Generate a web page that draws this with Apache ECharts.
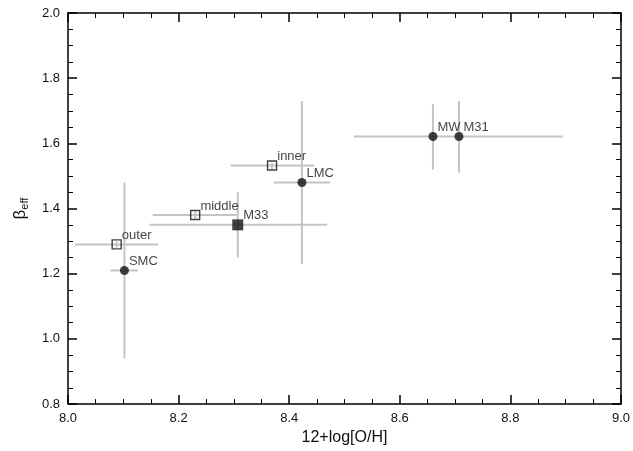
<!DOCTYPE html>
<html>
<head>
<meta charset="utf-8">
<script src="https://cdn.jsdelivr.net/npm/echarts@6/dist/echarts.min.js"></script>
</head>
<body style="margin:0">
<div id="main" style="width:633px;height:451px;"></div>
<script>
var names = ['outer', 'SMC', 'middle', 'M33', 'inner', 'LMC', 'MW', 'M31'];
var xVal  = [8.088, 8.102, 8.23, 8.307, 8.369, 8.423, 8.66, 8.707];
var yVal  = [1.29, 1.21, 1.38, 1.35, 1.532, 1.48, 1.621, 1.621];
var xLo   = [8.013, 8.077, 8.153, 8.147, 8.294, 8.372, 8.66, 8.517];
var xHi   = [8.163, 8.127, 8.305, 8.469, 8.445, 8.474, 8.66, 8.895];
var yLo   = [1.28, 0.94, 1.37, 1.25, 1.52, 1.23, 1.52, 1.51];
var yHi   = [1.30, 1.48, 1.39, 1.45, 1.54, 1.73, 1.72, 1.73];
var kind  = ['open', 'dot', 'open', 'solid', 'open', 'dot', 'dot', 'dot'];

var myChart = echarts.init(document.getElementById('main'));

var errData = names.map(function (n, i) {
    return [xVal[i], yVal[i], xLo[i], xHi[i], yLo[i], yHi[i]];
});

function pts(k) {
    var out = [];
    names.forEach(function (n, i) {
        if (kind[i] === k) out.push({ value: [xVal[i], yVal[i]], name: n });
    });
    return out;
}

var lbl = {
    show: true, position: 'right', formatter: '{b}', color: '#111',
    fontSize: 13, fontFamily: 'Liberation Sans', offset: [-3, -9], distance: 3
};

function axisBase(min, show) {
    return {
        type: 'value', min: min, max: min === 8.0 ? 9.0 : 2.0, interval: 0.2,
        axisLine: { show: true, lineStyle: { color: '#000', width: 1.5 } },
        axisTick: { inside: true, length: 9, lineStyle: { color: '#000', width: 1.5 } },
        minorTick: { show: true, splitNumber: 4, length: 5, lineStyle: { color: '#000' } },
        axisLabel: { show: show, color: '#111', fontSize: 13, fontFamily: 'Liberation Sans',
            formatter: function (v) { return v.toFixed(1); } },
        splitLine: { show: false }
    };
}

var x1 = axisBase(8.0, true);
x1.name = '12+log[O/H]'; x1.nameLocation = 'middle'; x1.nameGap = 23;
x1.nameTextStyle = { fontSize: 16, color: '#111', fontFamily: 'Liberation Sans' };
var x2 = axisBase(8.0, false); x2.position = 'top';
var y1 = axisBase(0.8, true);
y1.name = '{b|β}{s|eff}'; y1.nameLocation = 'middle'; y1.nameGap = 38;
y1.nameTextStyle = { rich: {
    b: { fontSize: 17, color: '#111', fontFamily: 'Liberation Sans' },
    s: { fontSize: 11, color: '#111', fontFamily: 'Liberation Sans', verticalAlign: 'bottom', padding: [8, 0, 0, 0] }
} };
var y2 = axisBase(0.8, false); y2.position = 'right';

var option = {
    animation: false,
    grid: { left: 68, right: 8, top: 13, bottom: 43 },
    xAxis: [x1, x2],
    yAxis: [y1, y2],
    series: [
        {
            type: 'custom', silent: true, z: 1,
            renderItem: function (params, api) {
                var c = api.coord([api.value(0), api.value(1)]);
                var l = api.coord([api.value(2), api.value(1)]);
                var r = api.coord([api.value(3), api.value(1)]);
                var b = api.coord([api.value(0), api.value(4)]);
                var t = api.coord([api.value(0), api.value(5)]);
                var st = { stroke: '#c4c4c4', lineWidth: 2 };
                return { type: 'group', children: [
                    { type: 'line', shape: { x1: l[0], y1: c[1], x2: r[0], y2: c[1] }, style: st },
                    { type: 'line', shape: { x1: c[0], y1: b[1], x2: c[0], y2: t[1] }, style: st }
                ] };
            },
            data: errData
        },
        {
            type: 'scatter', data: pts('dot'), symbol: 'circle', symbolSize: 9, z: 3,
            itemStyle: { color: '#111' }, label: lbl
        },
        {
            type: 'scatter', data: pts('open'), symbol: 'rect', symbolSize: 9, z: 3,
            itemStyle: { color: 'rgba(255,255,255,0)', borderColor: '#111', borderWidth: 1.4 }, label: lbl
        },
        {
            type: 'scatter', data: pts('solid'), symbol: 'rect', symbolSize: 11, z: 3,
            itemStyle: { color: '#111' }, label: lbl
        }
    ]
};

myChart.setOption(option);
</script>
</body>
</html>
